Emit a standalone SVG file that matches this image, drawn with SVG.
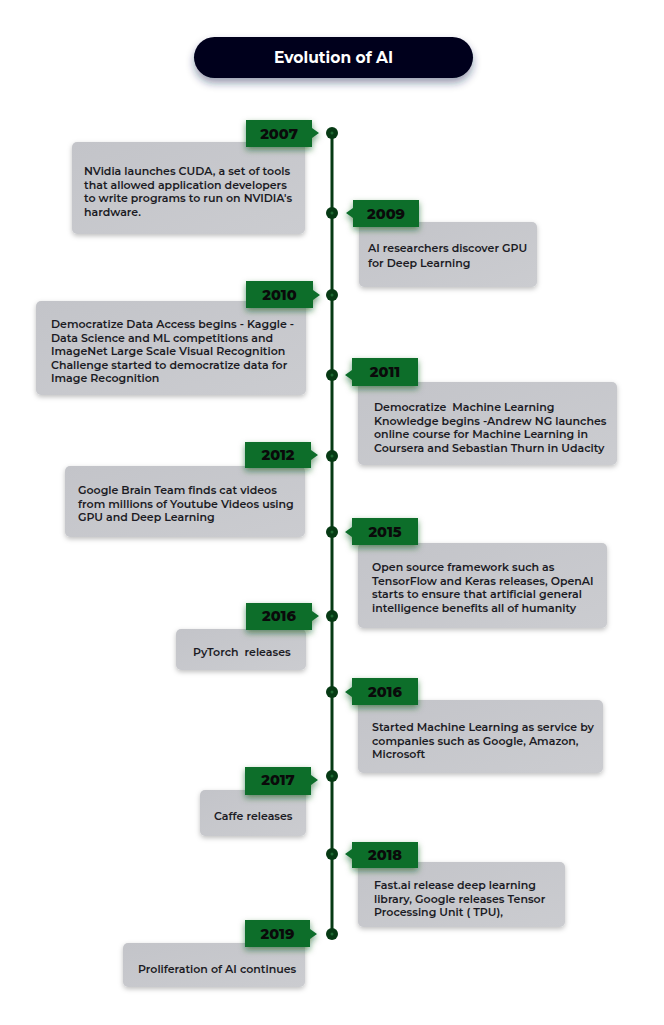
<svg xmlns="http://www.w3.org/2000/svg" width="664" height="1025" viewBox="0 0 664 1025">
<defs>
<linearGradient id="gbox" x1="0" y1="0" x2="1" y2="1">
<stop offset="0" stop-color="#c3c4c9"/>
<stop offset="1" stop-color="#cbccd0"/>
</linearGradient>
<filter id="sh" x="-10%" y="-20%" width="120%" height="150%">
<feDropShadow dx="0" dy="2" stdDeviation="2.5" flood-color="#000" flood-opacity="0.25"/>
</filter>
<filter id="gsh" x="-30%" y="-40%" width="160%" height="200%">
<feDropShadow dx="0" dy="3" stdDeviation="3" flood-color="#0b5a22" flood-opacity="0.6"/>
</filter>
<filter id="tsh" x="-10%" y="-40%" width="120%" height="220%">
<feDropShadow dx="0" dy="5" stdDeviation="4" flood-color="#1a2150" flood-opacity="0.45"/>
</filter>
</defs>
<style>
.box{fill:url(#gbox);filter:url(#sh)}
.tag{fill:#0b6e2c;filter:url(#gsh)}
.yr{font-family:"Montserrat","Inter","Liberation Sans",sans-serif;font-weight:800;font-size:14.5px;fill:#0a0a0a;text-anchor:middle}
.t{font-family:"Montserrat","Inter","Liberation Sans",sans-serif;font-weight:600;font-size:11px;fill:#1b1b24;white-space:pre}
.dot{fill:#063a14}
.in{fill:#1f6a32}
</style>
<rect width="664" height="1025" fill="#ffffff"/>
<g id="title">
<rect x="194" y="37" width="279" height="41" rx="20.5" fill="#03031a" filter="url(#tsh)"/>
<text x="333.5" y="63" font-family="Montserrat,Inter,'Liberation Sans',sans-serif" font-weight="700" font-size="15.5" fill="#ffffff" text-anchor="middle">Evolution of AI</text>
</g>
<g id="connectors">
<line x1="332" y1="132" x2="332" y2="934" stroke="#063a14" stroke-width="3"/>
</g>
<g id="n2007">
<rect class="box" x="72" y="142" width="233" height="92" rx="5"/>
<path class="tag" d="M246 120H312V128L319 133L312 138V147H246Z"/>
<text class="yr" x="279" y="139">2007</text>
<text class="t" x="84" y="175">NVidia launches CUDA, a set of tools</text>
<text class="t" x="84" y="188.5">that allowed application developers</text>
<text class="t" x="84" y="202">to write programs to run on NVIDIA's</text>
<text class="t" x="84" y="215.5">hardware.</text>
<circle class="dot" cx="332" cy="133" r="6"/><circle class="in" cx="332" cy="133" r="1.5"/>
</g>
<g id="n2009">
<rect class="box" x="359" y="222" width="178" height="65" rx="5"/>
<path class="tag" d="M353 200H419V227H353V218L346 213L353 208Z"/>
<text class="yr" x="386" y="219">2009</text>
<text class="t" x="368" y="252">AI researchers discover GPU</text>
<text class="t" x="368" y="266.5">for Deep Learning</text>
<circle class="dot" cx="332" cy="213" r="6"/><circle class="in" cx="332" cy="213" r="1.5"/>
</g>
<g id="n2010">
<rect class="box" x="36" y="301" width="270" height="94" rx="5"/>
<path class="tag" d="M246 281H313V290L320 295L313 300V308H246Z"/>
<text class="yr" x="279.5" y="300">2010</text>
<text class="t" x="51" y="328">Democratize Data Access begins - Kaggle -</text>
<text class="t" x="51" y="341.5">Data Science and ML competitions and</text>
<text class="t" x="51" y="355">ImageNet Large Scale Visual Recognition</text>
<text class="t" x="51" y="368.5">Challenge started to democratize data for</text>
<text class="t" x="51" y="382">Image Recognition</text>
<circle class="dot" cx="332" cy="295" r="6"/><circle class="in" cx="332" cy="295" r="1.5"/>
</g>
<g id="n2011">
<rect class="box" x="358" y="382" width="259" height="83" rx="5"/>
<path class="tag" d="M352 358H418V386H352V380L345 375L352 370Z"/>
<text class="yr" x="385" y="377">2011</text>
<text class="t" x="374" y="411">Democratize  Machine Learning</text>
<text class="t" x="374" y="424.5">Knowledge begins -Andrew NG launches</text>
<text class="t" x="374" y="438">online course for Machine Learning in</text>
<text class="t" x="374" y="451.5">Coursera and Sebastian Thurn in Udacity</text>
<circle class="dot" cx="332" cy="375" r="6"/><circle class="in" cx="332" cy="375" r="1.5"/>
</g>
<g id="n2012">
<rect class="box" x="65" y="466" width="240" height="71" rx="5"/>
<path class="tag" d="M245 442H311V450L318 455L311 460V468H245Z"/>
<text class="yr" x="278" y="460">2012</text>
<text class="t" x="78" y="494">Google Brain Team finds cat videos</text>
<text class="t" x="78" y="507.5">from millions of Youtube Videos using</text>
<text class="t" x="78" y="521">GPU and Deep Learning</text>
<circle class="dot" cx="332" cy="456" r="6"/><circle class="in" cx="332" cy="456" r="1.5"/>
</g>
<g id="n2015">
<rect class="box" x="358" y="543" width="249" height="85" rx="5"/>
<path class="tag" d="M352 518H418V545H352V537L345 532L352 527Z"/>
<text class="yr" x="385" y="537">2015</text>
<text class="t" x="372" y="571">Open source framework such as</text>
<text class="t" x="372" y="584.5">TensorFlow and Keras releases, OpenAI</text>
<text class="t" x="372" y="598">starts to ensure that artificial general</text>
<text class="t" x="372" y="611.5">intelligence benefits all of humanity</text>
<circle class="dot" cx="332" cy="532" r="6"/><circle class="in" cx="332" cy="532" r="1.5"/>
</g>
<g id="n2016a">
<rect class="box" x="176" y="629" width="130" height="41" rx="5"/>
<path class="tag" d="M246 603H312V611L319 616L312 621V630H246Z"/>
<text class="yr" x="279" y="621">2016</text>
<text class="t" x="193" y="656">PyTorch  releases</text>
<circle class="dot" cx="332" cy="616" r="6"/><circle class="in" cx="332" cy="616" r="1.5"/>
</g>
<g id="n2016b">
<rect class="box" x="358" y="700" width="245" height="73" rx="5"/>
<path class="tag" d="M352 678H418V705H352V697L345 692L352 687Z"/>
<text class="yr" x="385" y="697">2016</text>
<text class="t" x="372" y="731">Started Machine Learning as service by</text>
<text class="t" x="372" y="744.5">companies such as Google, Amazon,</text>
<text class="t" x="372" y="758">Microsoft</text>
<circle class="dot" cx="332" cy="692" r="6"/><circle class="in" cx="332" cy="692" r="1.5"/>
</g>
<g id="n2017">
<rect class="box" x="200" y="790" width="106" height="46" rx="5"/>
<path class="tag" d="M245 767H311V775L318 780L311 785V795H245Z"/>
<text class="yr" x="278" y="785">2017</text>
<text class="t" x="214" y="820">Caffe releases</text>
<circle class="dot" cx="332" cy="776" r="6"/><circle class="in" cx="332" cy="776" r="1.5"/>
</g>
<g id="n2018">
<rect class="box" x="358" y="862" width="207" height="65" rx="5"/>
<path class="tag" d="M352 842H418V868H352V859L345 854L352 849Z"/>
<text class="yr" x="385" y="860">2018</text>
<text class="t" x="374" y="889">Fast.ai release deep learning</text>
<text class="t" x="374" y="902.5">library, Google releases Tensor</text>
<text class="t" x="374" y="916">Processing Unit ( TPU),</text>
<circle class="dot" cx="332" cy="854" r="6"/><circle class="in" cx="332" cy="854" r="1.5"/>
</g>
<g id="n2019">
<rect class="box" x="123" y="943" width="182" height="44" rx="5"/>
<path class="tag" d="M245 920H310V929L317 934L310 939V947H245Z"/>
<text class="yr" x="277.5" y="939">2019</text>
<text class="t" x="138" y="973">Proliferation of AI continues</text>
<circle class="dot" cx="332" cy="934" r="6"/><circle class="in" cx="332" cy="934" r="1.5"/>
</g>
</svg>
